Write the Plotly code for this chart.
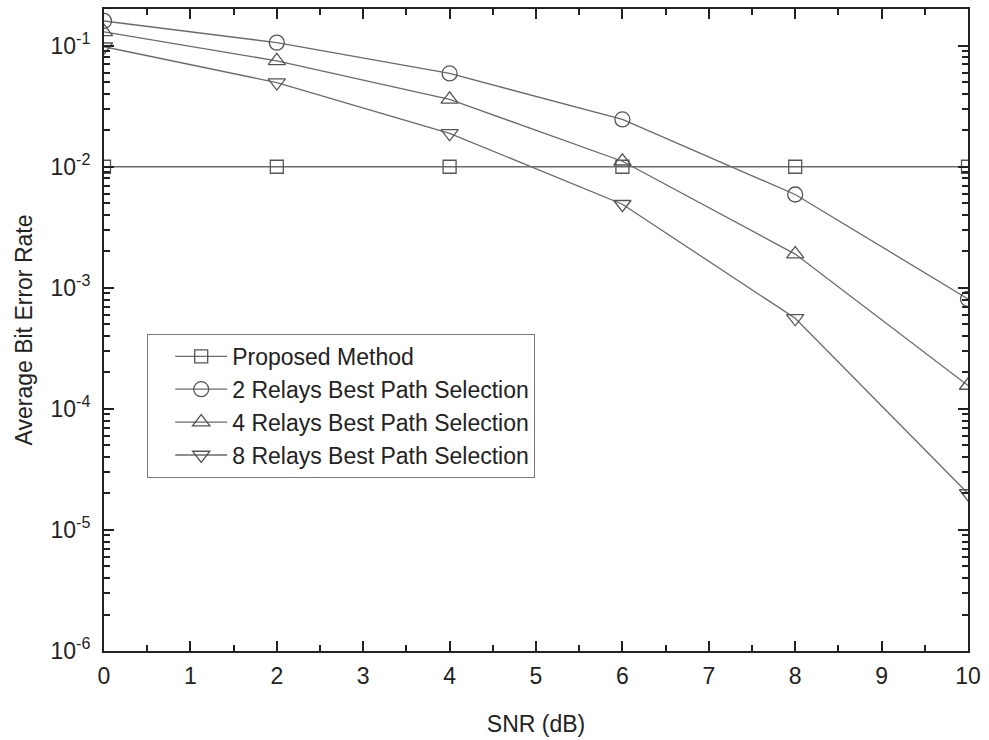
import plotly.graph_objects as go

snr = [0, 2, 4, 6, 8, 10]
proposed = [1e-2, 1e-2, 1e-2, 1e-2, 1e-2, 1e-2]
relays2 = [0.16, 0.106, 0.059, 0.0246, 0.0059, 0.00081]
relays4 = [0.13, 0.075, 0.036, 0.0111, 0.0019, 0.000156]
relays8 = [0.098, 0.0496, 0.0189, 0.0049, 0.00056, 0.00002]

y_tickvals = [1e-6, 1e-5, 1e-4, 1e-3, 1e-2, 1e-1]
y_ticktext = ["10<sup>-6</sup>", "10<sup>-5</sup>", "10<sup>-4</sup>",
              "10<sup>-3</sup>", "10<sup>-2</sup>", "10<sup>-1</sup>"]

names = ["Proposed Method", "2 Relays Best Path Selection",
         "4 Relays Best Path Selection", "8 Relays Best Path Selection"]
series = [proposed, relays2, relays4, relays8]
symbols = ["square-open", "circle-open", "triangle-up-open", "triangle-down-open"]
sizes = [13, 15, 15, 15]

line_col = "#6a6a6a"
fig = go.Figure()
for n, s, sym, sz in zip(names, series, symbols, sizes):
    fig.add_trace(go.Scatter(
        x=snr, y=s, name=n, mode="lines+markers",
        line=dict(color=line_col, width=1.3),
        marker=dict(symbol=sym, size=sz, color="#555555",
                    line=dict(color="#555555", width=1.3)),
    ))

font_family = "Liberation Sans, Arial, sans-serif"
minor_y = [k * 10 ** e for e in range(-6, 0) for k in range(2, 10)]

fig.update_layout(
    width=989, height=740,
    margin=dict(l=104, r=21, t=7, b=89),
    paper_bgcolor="white", plot_bgcolor="white",
    font=dict(family=font_family, size=23, color="#222222"),
    showlegend=True,
    legend=dict(x=0.05, y=0.494, xanchor="left", yanchor="top",
                bgcolor="white", bordercolor="#777777", borderwidth=1,
                font=dict(size=23, color="#222222"),
                tracegroupgap=0, itemwidth=52, indentation=22),
    xaxis=dict(
        range=[0, 10], dtick=1, tick0=0,
        ticks="inside", ticklen=10, tickwidth=2, tickcolor="#222222",
        showline=True, linecolor="#222222", linewidth=2, mirror="allticks",
        showgrid=False, zeroline=False,
        title=dict(text="SNR (dB)", standoff=28, font=dict(size=23)),
        tickfont=dict(size=23), ticklabelstandoff=3,
        minor=dict(dtick=0.5, tick0=0, ticks="inside", ticklen=6,
                   tickwidth=1.5, tickcolor="#222222", showgrid=False),
    ),
    yaxis=dict(
        type="log", range=[-6, -0.697],
        tickmode="array", tickvals=y_tickvals, ticktext=y_ticktext,
        ticks="inside", ticklen=10, tickwidth=2, tickcolor="#222222",
        showline=True, linecolor="#222222", linewidth=2, mirror="allticks",
        showgrid=False, zeroline=False,
        title=dict(text="Average Bit Error Rate", standoff=11, font=dict(size=23)),
        tickfont=dict(size=23), ticklabelstandoff=7,
        minor=dict(tickvals=minor_y, ticks="inside", ticklen=6,
                   tickwidth=1.5, tickcolor="#222222", showgrid=False),
    ),
)

fig.write_html("out.html")
